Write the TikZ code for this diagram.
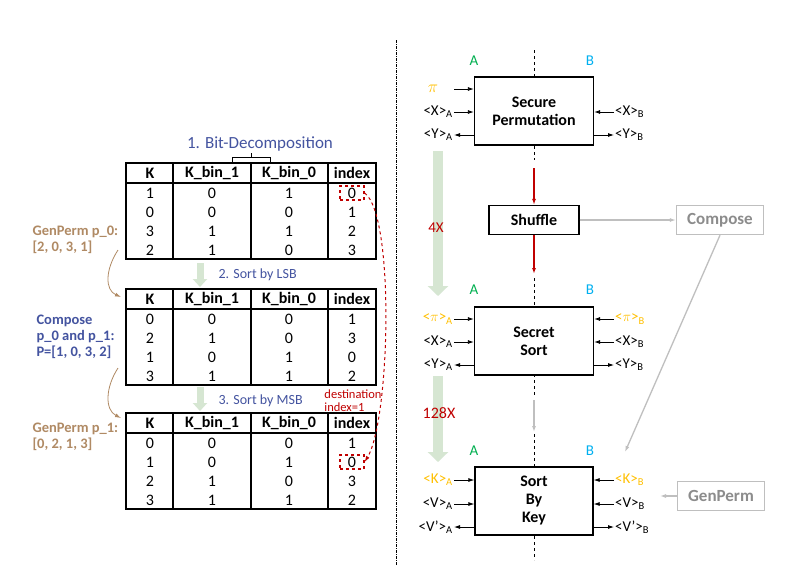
\documentclass[tikz,border=0pt]{standalone}
\usepackage{fontspec}
\setmainfont{Carlito}
\usetikzlibrary{arrows.meta}
\definecolor{partyA}{RGB}{0,176,80}
\definecolor{partyB}{RGB}{0,176,240}
\definecolor{secret}{RGB}{255,192,0}
\definecolor{stepblue}{RGB}{68,84,160}
\definecolor{permbrown}{RGB}{176,138,100}
\definecolor{loopgreen}{RGB}{214,230,210}
\definecolor{darkred}{RGB}{192,0,0}
\tikzset{
  cell/.style={inner sep=0pt,font=\fontsize{16}{16}\selectfont},
  hdr/.style={cell,font=\fontsize{16}{16}\selectfont\bfseries},
  proto/.style={draw,line width=1.3pt,align=center,font=\fontsize{16}{18}\selectfont\bfseries},
  ghost/.style={draw=black!25,line width=1.3pt,text=black!45,font=\fontsize{17}{17}\selectfont\bfseries},
  io/.style={inner sep=1pt,font=\fontsize{15}{15}\selectfont},
  wire/.style={-{Latex[length=6pt,width=4pt]},line width=0.8pt},
  fat/.style={-{Triangle[length=10pt,width=20pt]},line width=10pt,draw=loopgreen},
  note/.style={font=\fontsize{14.5}{16}\selectfont\bfseries,align=left,anchor=west}
}
\begin{document}
\begin{tikzpicture}[x=1pt,y=-1pt]
\path[use as bounding box,fill=white] (0,0) rectangle (800,582);
% tables
\foreach \t/\top/\ka/\kb/\kc/\kd/\ia/\ib/\ic/\id in
  {1/163/1/0/3/2/0/1/2/3, 2/289/0/2/1/3/1/3/0/2, 3/413/0/1/2/3/1/0/3/2}{
  \draw[line width=1.4pt] (126,\top) rectangle (376,\top+96);
  \draw[line width=1.4pt] (126,\top+20) -- (376,\top+20);
  \foreach \c in {173,251,328} \draw[line width=1.4pt] (\c,\top) -- (\c,\top+96);
  \node[hdr] (k\t) at (150,\top+10) {K};
  \node[hdr] at (212,\top+10) {K\_bin\_1};
  \node[hdr] at (289,\top+10) {K\_bin\_0};
  \node[hdr] (ix\t) at (352,\top+10) {index};
  \foreach \k/\i [count=\r] in {\ka/\ia,\kb/\ib,\kc/\ic,\kd/\id}{
    \pgfmathtruncatemacro{\bone}{\k/2}
    \pgfmathtruncatemacro{\bzero}{mod(\k,2)}
    \node[cell] at (150,\top+20+19*\r-9) {\k};
    \node[cell] at (212,\top+20+19*\r-9) {\bone};
    \node[cell] at (289,\top+20+19*\r-9) {\bzero};
    \node[cell] (i\t\r) at (352,\top+20+19*\r-9) {\i};
  }
}
\node[draw=darkred,dashed,line width=1.3pt,minimum width=24pt,minimum height=14pt] (src) at (i11) {};
\node[draw=darkred,dashed,line width=1.3pt,minimum width=24pt,minimum height=14pt] (dst) at (i32) {};
\draw[wire,draw=darkred,dashed,line width=1pt] (src.east) .. controls (395,215) and (390,420) .. (dst.east);
\node[text=darkred,font=\fontsize{12.5}{13}\selectfont,align=left] (dest) at (353,401) {destination\\index=1};
\node[text=stepblue,font=\fontsize{17}{17}\selectfont] (bits) at (260,144) {1. Bit-Decomposition};
\draw[line width=0.8pt] (232,162) -- (232,157) -- (270,157) -- (270,162) (251,157) -- (251,153);
\coordinate (s1) at (200,263); \coordinate (e1) at (200,287);
\coordinate (s2) at (200,387); \coordinate (e2) at (200,411);
\draw[fat,line width=7pt,-{Triangle[length=8pt,width=14pt]}] (s1) -- (e1);
\draw[fat,line width=7pt,-{Triangle[length=8pt,width=14pt]}] (s2) -- (e2);
\node[text=stepblue,font=\fontsize{14}{14}\selectfont,anchor=west] (lsb) at (215,275) {2. Sort by LSB};
\node[text=stepblue,font=\fontsize{14}{14}\selectfont,anchor=west] (msb) at (215,401) {3. Sort by MSB};
\node[note,text=permbrown] (gp0) at (29,240) {GenPerm p\_0:\\{}[2, 0, 3, 1]};
\node[note,text=stepblue] (cmp) at (33,337) {Compose\\p\_0 and p\_1:\\P=[1, 0, 3, 2]};
\node[note,text=permbrown] (gp1) at (29,437) {GenPerm p\_1:\\{}[0, 2, 1, 3]};
\draw[wire,draw=permbrown] (118,250) .. controls (105,270) and (105,290) .. (121,297);
\draw[wire,draw=permbrown] (118,368) .. controls (105,388) and (105,410) .. (121,418);
% divider
\draw[dash pattern=on 3pt off 1pt on 1pt off 1pt] (396,40) -- (396,565);
% protocols
\draw[dashed] (534,50) -- (534,560);
\fill[white] (530,160) rectangle (538,278);
\fill[white] (530,398) rectangle (538,434);
\node[proto,fill=white,minimum width=119pt,minimum height=68pt] (sp) at (534,111) {Secure\\Permutation};
\node[proto,fill=white,minimum width=90pt,minimum height=29pt] (sh) at (534,220) {Shuffle};
\node[proto,fill=white,minimum width=119pt,minimum height=68pt] (ss) at (534,341) {Secret\\Sort};
\node[proto,fill=white,minimum width=118pt,minimum height=68pt] (sk) at (534,501) {Sort\\By\\Key};
\node[ghost,minimum width=87pt,minimum height=29pt] (cp) at (720,220) {Compose};
\node[ghost,minimum width=87pt,minimum height=29pt] (gp) at (721,496) {GenPerm};
\coordinate (r1) at (534,168); \coordinate (r2) at (534,274);
\draw[wire,draw=darkred,line width=1.3pt] (r1) -- (sh.north);
\draw[wire,draw=darkred,line width=1.3pt] (sh.south) -- (r2);
\draw[wire,draw=black!25,line width=1.3pt] (sh.east) -- (cp.west);
\draw[wire,draw=black!25,line width=1.3pt] (cp.south) -- (625,452);
\draw[wire,draw=black!25,line width=1.3pt] (gp.west) -- (660,496);
\draw[wire,draw=black!25,line width=1.3pt] (534,400) -- (534,432);
\foreach \n/\y in {sp/61,ss/290,sk/451}{
  \node[text=partyA,font=\fontsize{15}{15}\selectfont] at (474,\y) {A};
  \node[text=partyB,font=\fontsize{15}{15}\selectfont] at (590,\y) {B};
}
% loops
\coordinate (l1) at (438,151); \coordinate (m1) at (438,296);
\coordinate (l2) at (438,376); \coordinate (m2) at (438,462);
\draw[fat] (l1) -- (m1);
\draw[fat] (l2) -- (m2);
\node[text=darkred,font=\fontsize{15}{15}\selectfont] (n4) at (436,228) {4X};
\node[text=darkred,font=\fontsize{16}{16}\selectfont] (n128) at (439,413) {128X};
% wires
\node[io,text=secret,font=\fontsize{18}{18}\selectfont] (pi) at (433,89) {$\pi$};
\coordinate (pistart) at (454,89);
\draw[wire] (pistart) -- (sp.west |- pi);
\foreach \y/\t/\c in {112/X/black,135/Y/black}{
  \node[io,text=\c,anchor=east] (pa\y) at (454,\y) {<\t>\textsubscript{A}};
  \node[io,text=\c,anchor=west] (pb\y) at (614,\y) {<\t>\textsubscript{B}};
}
\draw[wire] (pa112) -- (pa112 -| sp.west);
\draw[wire] (pa135 -| sp.west) -- (pa135);
\draw[wire] (pb112) -- (pb112 -| sp.east);
\draw[wire] (pb135 -| sp.east) -- (pb135);
\foreach \y/\t/\c in {319/$\pi$/secret,342/X/black,365/Y/black, 480/K/secret,504/V/black,527/V'/black}{
  \node[io,text=\c,anchor=east] (qa\y) at (454,\y) {<\t>\textsubscript{A}};
  \node[io,text=\c,anchor=west] (qb\y) at (614,\y) {<\t>\textsubscript{B}};
}
\foreach \y/\b in {319/ss,342/ss,480/sk,504/sk}{
  \draw[wire] (qa\y) -- (qa\y -| \b.west);
  \draw[wire] (qb\y) -- (qb\y -| \b.east);
}
\foreach \y/\b in {365/ss,527/sk}{
  \draw[wire] (qa\y -| \b.west) -- (qa\y);
  \draw[wire] (qb\y -| \b.east) -- (qb\y);
}
\end{tikzpicture}
\end{document}
